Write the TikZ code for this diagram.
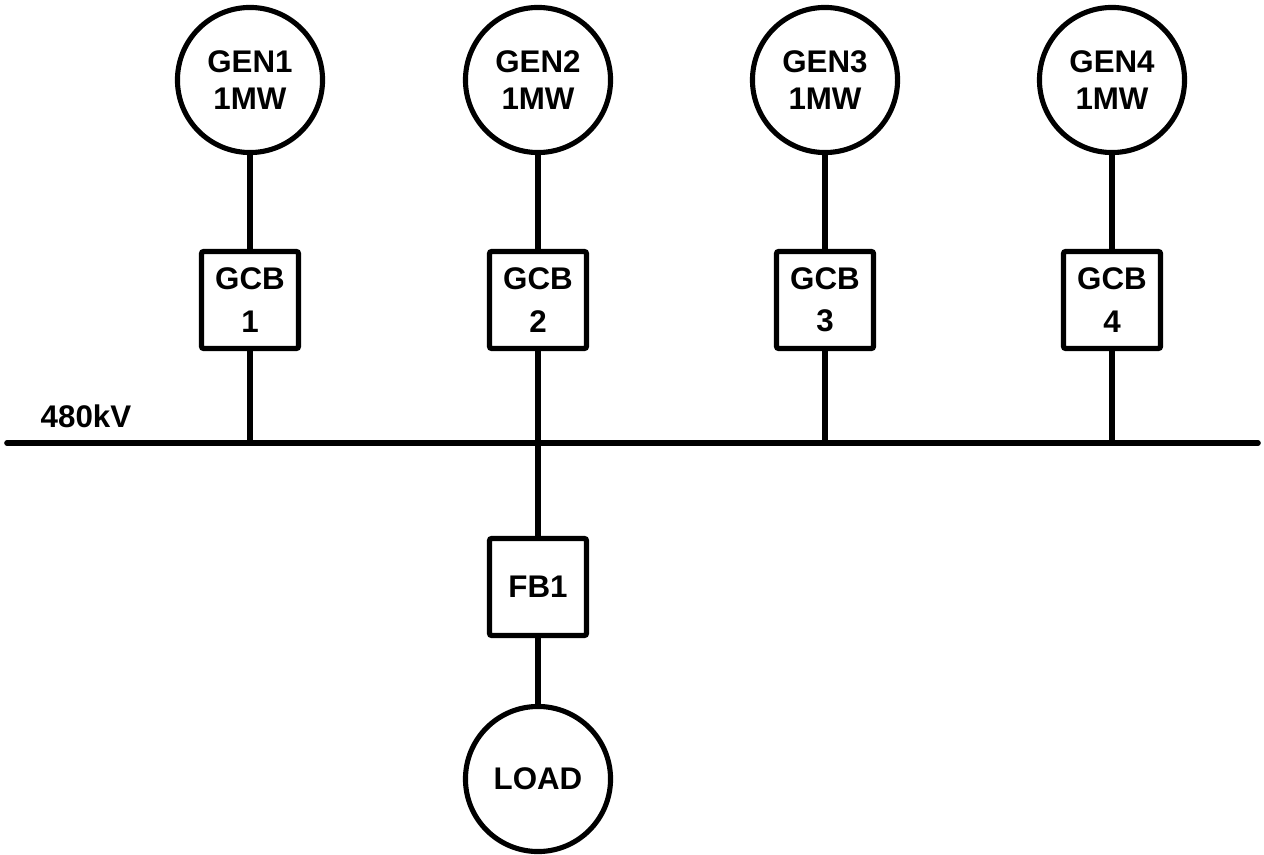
\documentclass[tikz,border=0pt]{standalone}
\usepackage{fontspec}
\setmainfont{Liberation Sans}
\begin{document}
\begin{tikzpicture}[x=0.01cm,y=-0.01cm,
  wire/.style={line width=1.6pt},
  gen/.style={circle,draw,line width=1.45pt,minimum size=1.45cm,inner sep=0pt,align=center,font=\fontsize{8.9}{10.6}\selectfont\bfseries},
  brk/.style={rectangle,draw,line width=1.45pt,rounded corners=0.6pt,minimum size=0.97cm,inner sep=0pt,align=center,font=\fontsize{8.9}{12}\selectfont\bfseries}]
\useasboundingbox (0,0) rectangle (1264,855);
\foreach \i/\x in {1/250,2/538,3/825,4/1112}{
  \node[gen] (g\i) at (\x,80) {GEN\i\\1MW};
  \node[brk] (b\i) at (\x,300) {GCB\\\i};
  \coordinate (j\i) at (\x,443);
  \draw[wire] (g\i) -- (b\i);
}
\coordinate (busL) at (7,443);
\coordinate (busR) at (1258,443);
\draw[wire,line cap=round] (busL) -- (busR);
\node[font=\fontsize{8.9}{10}\selectfont\bfseries,anchor=base west,inner sep=0pt] (bl) at (40,427) {480kV};
\foreach \i in {1,3,4}{\draw[wire] (b\i) -- (j\i);}
\node[brk] (fb) at (538,587) {FB1};
\node[gen] (ld) at (538,779) {LOAD};
\draw[wire] (b2) -- (fb);
\draw[wire] (fb) -- (ld);
\end{tikzpicture}
\end{document}
